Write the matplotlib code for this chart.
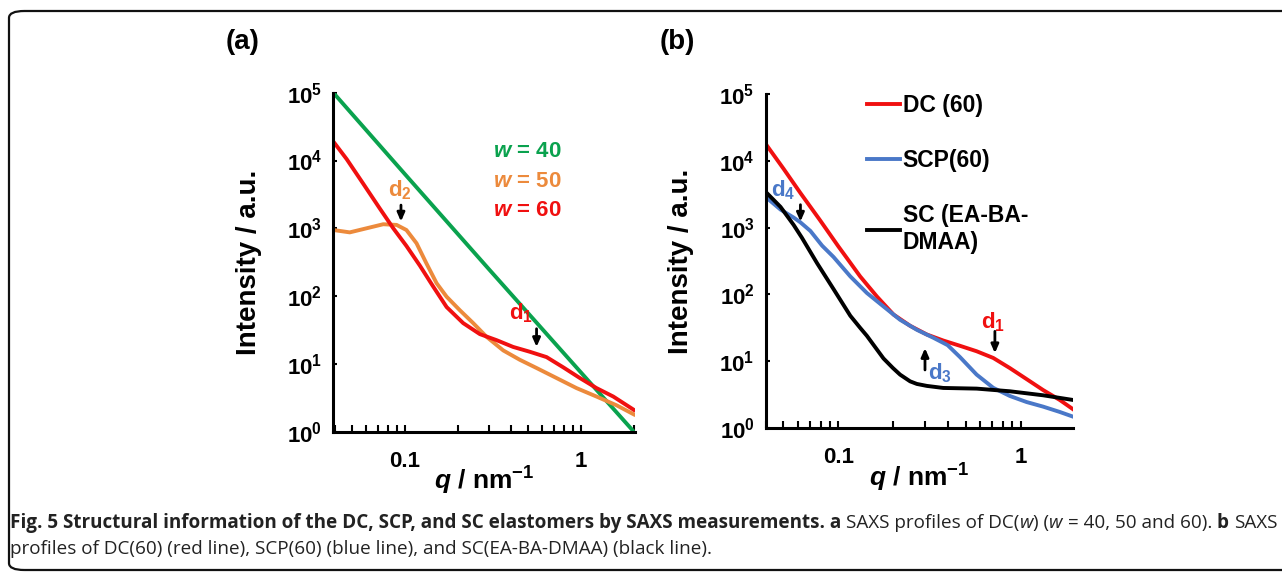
import matplotlib
matplotlib.use("Agg")
import matplotlib.pyplot as plt
from matplotlib.patches import FancyBboxPatch
from matplotlib.ticker import LogLocator, NullFormatter, FixedLocator

plt.rcParams.update({
    "font.family": "Liberation Sans",
    "font.weight": "bold",
    "axes.labelweight": "bold",
    "mathtext.fontset": "custom",
    "mathtext.rm": "Liberation Sans:bold",
    "mathtext.bf": "Liberation Sans:bold",
    "mathtext.it": "Liberation Sans:italic:bold",
    "mathtext.default": "bf",
})

# ---- panel (a): DC(w) ----
q_a40 = [0.0392, 0.1, 0.3, 1.0, 2.0]
i_a40 = [1.0e5, 6300, 250, 7.5, 1.0]

q_a50 = [0.0392, 0.0486, 0.0605, 0.0753, 0.0897, 0.102, 0.1164, 0.1327, 0.1514, 0.1726,
         0.2051, 0.2443, 0.2911, 0.3622, 0.4498, 0.5598, 0.7261, 0.9441, 1.227, 1.596, 2.0]
i_a50 = [944, 871, 1000, 1148, 1122, 944, 603, 302, 155, 98,
         62, 40, 25.1, 15.8, 11.5, 8.7, 6.2, 4.4, 3.3, 2.45, 1.8]

q_a60 = [0.0392, 0.0467, 0.0579, 0.0721, 0.0859, 0.102, 0.1216, 0.1449, 0.1726, 0.2143,
         0.2667, 0.3319, 0.4121, 0.5129, 0.6383, 0.794, 0.986, 1.227, 1.528, 2.0]
i_a60 = [19050, 10470, 4570, 1950, 1000, 550, 282, 138, 69, 40,
         27.5, 22.4, 17.8, 15.1, 12.6, 8.9, 6.2, 4.4, 3.3, 2.1]

# ---- panel (b): DC(60), SCP(60), SC(EA-BA-DMAA) ----
q_dc = [0.0398, 0.0501, 0.0619, 0.0794, 0.1, 0.1117, 0.1318, 0.1629, 0.2009, 0.2477,
        0.3062, 0.3767, 0.4656, 0.5741, 0.7079, 0.873, 1.079, 1.33, 1.641, 1.94]
i_dc = [18200, 7590, 3310, 1290, 525, 347, 186, 93, 50, 33.9,
        25.1, 20.4, 17.0, 14.1, 11.2, 7.9, 5.4, 3.7, 2.63, 1.91]

q_scp = [0.0398, 0.0482, 0.0569, 0.0619, 0.0703, 0.0815, 0.0942, 0.1164, 0.1435, 0.177,
         0.2183, 0.2698, 0.3327, 0.398, 0.4656, 0.5741, 0.7079, 0.873, 1.079, 1.33,
         1.641, 1.94]
i_scp = [2900, 1862, 1413, 1202, 891, 537, 363, 186, 105, 66,
         41.7, 29.5, 22.4, 17.4, 11.5, 6.3, 4.0, 3.02, 2.45, 2.09,
         1.74, 1.48]

q_sc = [0.0398, 0.0482, 0.0569, 0.0631, 0.0764, 0.0942, 0.1164, 0.1318, 0.1435, 0.177,
        0.1995, 0.2183, 0.2477, 0.2698, 0.3062, 0.3767, 0.5741, 0.873, 1.33, 1.94]
i_sc = [3467, 2042, 1096, 708, 295, 120, 47.9, 31.6, 24.0, 11.0,
        7.9, 6.3, 5.0, 4.57, 4.27, 3.98, 3.89, 3.55, 3.09, 2.63]

YTICKS = [1, 10, 100, 1e3, 1e4, 1e5]
YLABELS = [r"$10^{0}$", r"$10^{1}$", r"$10^{2}$", r"$10^{3}$", r"$10^{4}$", r"$10^{5}$"]

GREEN, ORANGE, RED, BLUE = "#0AA24E", "#EC8A3C", "#F01010", "#4A78C8"
LW = 2.8


def style_axes(ax, xlim):
    ax.set_xscale("log"); ax.set_yscale("log")
    ax.set_xlim(*xlim); ax.set_ylim(1, 1e5)
    for s in ("top", "right"):
        ax.spines[s].set_visible(False)
    for s in ("left", "bottom"):
        ax.spines[s].set_linewidth(2.2)
    ax.yaxis.set_major_locator(FixedLocator(YTICKS))
    ax.set_yticklabels(YLABELS)
    ax.yaxis.set_minor_locator(FixedLocator([]))
    ax.xaxis.set_major_locator(FixedLocator([0.1, 1]))
    ax.set_xticklabels(["0.1", "1"])
    ax.xaxis.set_minor_locator(LogLocator(base=10, subs=range(2, 10)))
    ax.xaxis.set_minor_formatter(NullFormatter())
    ax.tick_params(which="both", direction="in", width=1.5, labelsize=16, pad=8)
    ax.tick_params(axis="x", which="major", length=5, pad=14)
    ax.tick_params(axis="x", which="minor", length=5)
    ax.tick_params(axis="y", length=3)
    ax.set_ylabel("Intensity / a.u.", fontsize=20, labelpad=18)
    ax.set_xlabel(r"$\mathit{q}$ / nm$^{-1}$", fontsize=19, labelpad=-5)


def arrow(ax, x, y0, y1):
    ax.annotate("", xy=(x, y1), xytext=(x, y0),
                arrowprops=dict(arrowstyle="-|>,head_length=0.5,head_width=0.22",
                                color="black", lw=2, shrinkA=0, shrinkB=0))


fig = plt.figure(figsize=(12.82, 5.73), dpi=100)

# rounded outer frame (right edge runs off the picture)
fig.add_artist(FancyBboxPatch((9 / 1282, 3 / 573), 1300 / 1282, 559 / 573,
                              boxstyle="round,pad=0,rounding_size=0.012",
                              transform=fig.transFigure, fill=False,
                              edgecolor="#111111", linewidth=1.6, clip_on=False))

# ---------------- (a) ----------------
ax1 = fig.add_axes([0.260, 0.2466, 0.2353, 0.5916])
ax1.plot(q_a40, i_a40, color=GREEN, lw=LW, solid_capstyle="butt")
ax1.plot(q_a50, i_a50, color=ORANGE, lw=LW)
ax1.plot(q_a60, i_a60, color=RED, lw=LW)
style_axes(ax1, (0.0392, 2.03))
for ql, yl, col in [("40", 13500, GREEN), ("50", 4900, ORANGE), ("60", 1860, RED)]:
    ax1.text(0.318, yl, r"$\mathit{w}$ = " + ql, color=col, fontsize=16,
             ha="left", va="center")
ax1.text(0.094, 3600, r"d$_{2}$", color=ORANGE, fontsize=16, ha="center", va="center")
arrow(ax1, 0.095, 2200, 1260)
ax1.text(0.46, 56, r"d$_{1}$", color=RED, fontsize=16, ha="center", va="center")
arrow(ax1, 0.56, 33, 17.8)
fig.text(243 / 1282, 1 - 42 / 573, "(a)", fontsize=20, ha="center", va="center")

# ---------------- (b) ----------------
ax2 = fig.add_axes([0.5973, 0.253, 0.2397, 0.583])
ax2.plot(q_dc, i_dc, color=RED, lw=LW, label="DC (60)")
ax2.plot(q_scp, i_scp, color=BLUE, lw=LW, label="SCP(60)")
ax2.plot(q_sc, i_sc, color="black", lw=LW, label="SC (EA-BA-\nDMAA)")
style_axes(ax2, (0.040, 1.94))
ax2.legend(loc="upper left", bbox_to_anchor=(0.30, 1.028), frameon=False,
           fontsize=16.5, handlelength=1.45, handletextpad=0.1, labelspacing=1.4,
           borderaxespad=0)
ax2.text(0.050, 3600, r"d$_{4}$", color=BLUE, fontsize=16, ha="center", va="center")
arrow(ax2, 0.062, 2200, 1230)
ax2.text(0.708, 39, r"d$_{1}$", color=RED, fontsize=16, ha="center", va="center")
arrow(ax2, 0.723, 28, 13.2)
ax2.text(0.361, 6.6, r"d$_{3}$", color=BLUE, fontsize=16, ha="center", va="center")
arrow(ax2, 0.299, 7.4, 15.7)
fig.text(677 / 1282, 1 - 42 / 573, "(b)", fontsize=20, ha="center", va="center")

# ---------------- caption ----------------
CAP = 13.6
line1 = [("Fig. 5 Structural information of the DC, SCP, and SC elastomers by SAXS measurements. a", "bold", "normal", 0),
         ("SAXS profiles of DC(", "normal", "normal", 1),
         ("w", "normal", "italic", 0),
         (") (", "normal", "normal", 0),
         ("w", "normal", "italic", 0),
         ("= 40, 50 and 60).", "normal", "normal", 1),
         ("b", "bold", "normal", 1),
         ("SAXS", "normal", "normal", 1)]
line2 = [("profiles of DC(60) (red line), SCP(60) (blue line), and SC(EA-BA-DMAA) (black line).",
          "normal", "normal", 0)]


def rich_line(parts, x_px, y_px):
    r = fig.canvas.get_renderer()
    x = x_px
    for txt, wt, st, gap in parts:
        x += gap * CAP * 0.26 * 100 / 72
        t = fig.text(x / 1282, 1 - y_px / 573, txt, fontsize=CAP, family="Open Sans",
                     weight=wt, style=st, va="baseline", ha="left", color="#222222")
        x = t.get_window_extent(r).x1


rich_line(line1, 10, 528)
rich_line(line2, 10, 554)

fig.savefig("out.png", dpi=100)
